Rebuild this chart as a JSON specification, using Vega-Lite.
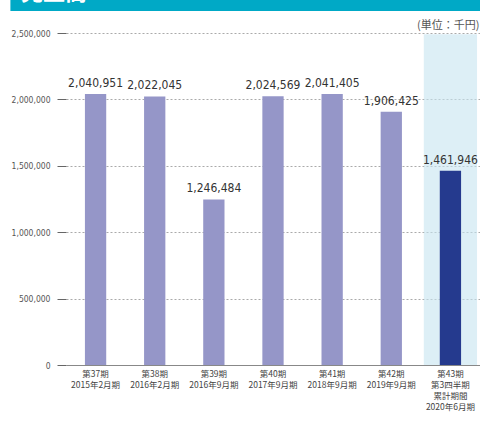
{
  "$schema": "https://vega.github.io/schema/vega-lite/v6.json",
  "width": 414,
  "height": 332,
  "autosize": {"type": "none"},
  "padding": {"left": 66, "top": 33, "right": 0, "bottom": 56},
  "background": "white",
  "config": {
    "view": {"stroke": null},
    "axisY": {"title": null, "labelExpr": "format(datum.value, ',')", "labelFont": "DejaVu Sans Condensed", "labelFontSize": 8.5, "labelColor": "#555", "tickSize": 9, "tickColor": "#666", "labelPadding": 7, "domain": false, "grid": true, "gridColor": "#aaa", "gridDash": [2, 2], "gridWidth": 1}
  },
  "data": {"values": [
    {"period": "第37期\n2015年2月期", "value": 2040951, "label": "2,040,951", "current": false},
    {"period": "第38期\n2016年2月期", "value": 2022045, "label": "2,022,045", "current": false},
    {"period": "第39期\n2016年9月期", "value": 1246484, "label": "1,246,484", "current": false},
    {"period": "第40期\n2017年9月期", "value": 2024569, "label": "2,024,569", "current": false},
    {"period": "第41期\n2018年9月期", "value": 2041405, "label": "2,041,405", "current": false},
    {"period": "第42期\n2019年9月期", "value": 1906425, "label": "1,906,425", "current": false},
    {"period": "第43期\n第3四半期\n累計期間\n2020年6月期", "value": 1461946, "label": "1,461,946", "current": true}
  ]},
  "encoding": {
    "x": {"field": "period", "type": "nominal", "sort": null,
      "scale": {"domain": ["第37期\n2015年2月期", "第38期\n2016年2月期", "第39期\n2016年9月期", "第40期\n2017年9月期", "第41期\n2018年9月期", "第42期\n2019年9月期", "第43期\n第3四半期\n累計期間\n2020年6月期"], "paddingInner": 0.64, "paddingOuter": 0.32},
      "axis": {"title": null, "labelAngle": 0, "labelExpr": "split(datum.label, '\\n')", "labelFont": "Noto Sans CJK JP", "labelFontSize": 8.5, "labelColor": "#444", "labelLineHeight": 11, "labelPadding": 4, "ticks": false, "domainColor": "#888", "domainWidth": 1.2, "labelBaseline": "top"}}
  },
  "layer": [
    {
      "data": {"values": [{"title": "売上高"}]},
      "mark": {"type": "rect", "color": "#00A9C6"},
      "encoding": {
        "x": {"datum": "第37期\n2015年2月期", "bandPosition": -3.5},
        "x2": {"datum": "第43期\n第3四半期\n累計期間\n2020年6月期", "bandPosition": 4},
        "y": {"datum": 2665000, "type": "quantitative",
          "scale": {"domain": [0, 2500000], "nice": false},
          "axis": {"values": [0, 500000, 1000000, 1500000, 2000000, 2500000]}},
        "y2": {"datum": 2760000}}
    },
    {
      "data": {"values": [{"title": "売上高"}]},
      "mark": {"type": "text", "align": "left", "baseline": "bottom", "font": "Noto Sans CJK JP", "fontSize": 22, "fontWeight": "bold", "color": "white"},
      "encoding": {
        "x": {"datum": "第37期\n2015年2月期", "bandPosition": -3.0},
        "y": {"datum": 2712000, "type": "quantitative"},
        "text": {"field": "title"}}
    },
    {
      "transform": [{"filter": "datum.current"}],
      "mark": {"type": "bar", "color": "#C6E4F0", "opacity": 0.6, "width": {"band": 2.5}},
      "encoding": {"y": {"datum": 2490000, "type": "quantitative"}, "y2": {"datum": 0}}
    },
    {
      "mark": {"type": "bar"},
      "encoding": {
        "y": {"field": "value", "type": "quantitative"},
        "color": {"field": "current", "type": "nominal", "scale": {"domain": [false, true], "range": ["#9596C8", "#253A8E"]}, "legend": null}
      }
    },
    {
      "mark": {"type": "text", "baseline": "bottom", "dy": -4, "font": "DejaVu Sans Condensed", "fontSize": 12, "color": "#333"},
      "encoding": {"y": {"field": "value", "type": "quantitative"}, "text": {"field": "label"}}
    },
    {
      "data": {"values": [{"period": "第43期\n第3四半期\n累計期間\n2020年6月期", "unit": "(単位：千円)"}]},
      "mark": {"type": "text", "align": "right", "baseline": "middle", "dx": 29, "font": "Noto Sans CJK JP", "fontSize": 11, "color": "#555"},
      "encoding": {"y": {"datum": 2553000, "type": "quantitative"}, "text": {"field": "unit"}}
    }
  ]
}
